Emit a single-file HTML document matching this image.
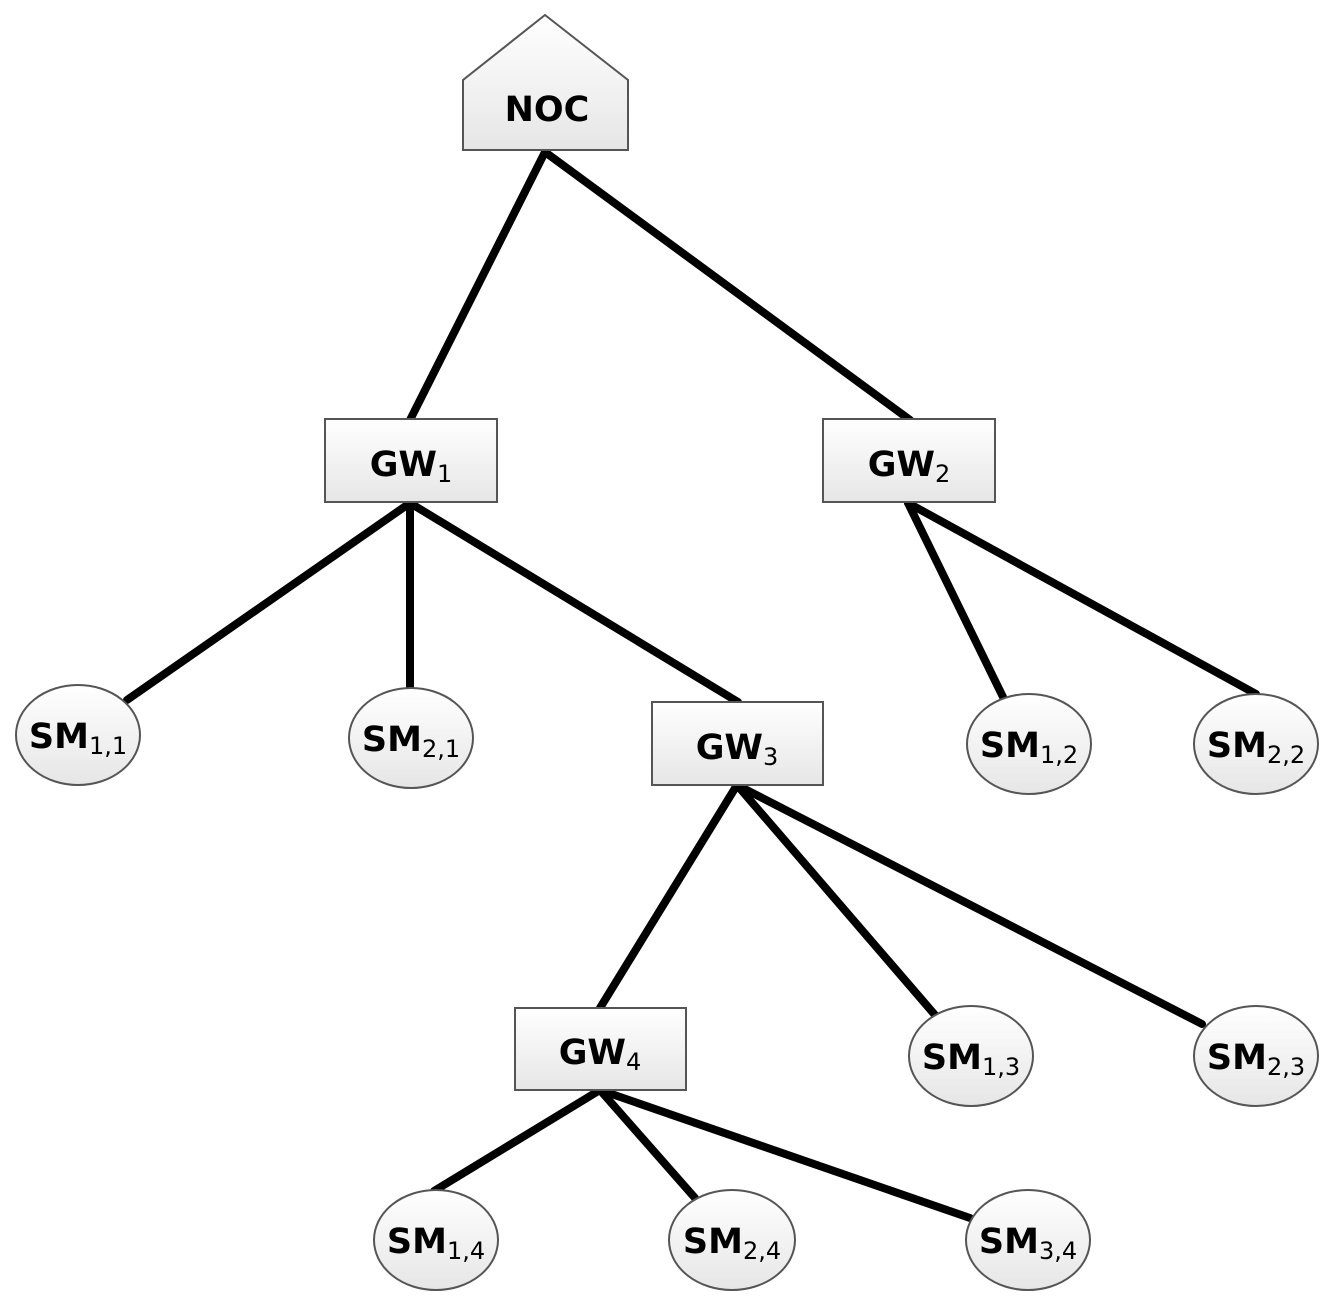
<!DOCTYPE html>
<html><head><meta charset="utf-8"><style>html,body{margin:0;padding:0;background:#fff}</style></head>
<body>
<svg width="1339" height="1309" viewBox="0 0 1339 1309" xmlns="http://www.w3.org/2000/svg">
<defs>
<linearGradient id="g" x1="0" y1="0" x2="0" y2="1"><stop offset="0" stop-color="#ffffff"/><stop offset="1" stop-color="#e6e6e6"/></linearGradient>
</defs>
<g stroke="#000" stroke-width="8" stroke-linecap="round">
<line x1="545" y1="152" x2="410" y2="420"/>
<line x1="545" y1="152" x2="910" y2="420"/>
<line x1="410" y1="503" x2="127" y2="700"/>
<line x1="410" y1="503" x2="410" y2="688"/>
<line x1="410" y1="503" x2="738" y2="702"/>
<line x1="908" y1="503" x2="1003" y2="697"/>
<line x1="908" y1="503" x2="1256" y2="694"/>
<line x1="737" y1="785" x2="600" y2="1008"/>
<line x1="737" y1="785" x2="935" y2="1015"/>
<line x1="737" y1="785" x2="1202" y2="1024"/>
<line x1="600" y1="1090" x2="434" y2="1191"/>
<line x1="600" y1="1090" x2="695" y2="1198"/>
<line x1="600" y1="1090" x2="970" y2="1218"/>
</g>
<g fill="url(#g)" stroke="#555" stroke-width="2">
<polygon points="545,15 628,80 628,150 463,150 463,80"/>
<rect x="325" y="419" width="172" height="83"/>
<rect x="823" y="419" width="172" height="83"/>
<rect x="652" y="702" width="171" height="83"/>
<rect x="515" y="1008" width="171" height="82"/>
<ellipse cx="78" cy="735" rx="62" ry="50"/>
<ellipse cx="411" cy="738" rx="62" ry="50"/>
<ellipse cx="1029" cy="744" rx="62" ry="50"/>
<ellipse cx="1256" cy="744" rx="62" ry="50"/>
<ellipse cx="971" cy="1056" rx="62" ry="50"/>
<ellipse cx="1256" cy="1056" rx="62" ry="50"/>
<ellipse cx="436" cy="1240" rx="62" ry="50"/>
<ellipse cx="732" cy="1240" rx="63" ry="50"/>
<ellipse cx="1028" cy="1240" rx="62" ry="50"/>
</g>
<g font-family="'DejaVu Sans', 'Liberation Sans', sans-serif" font-weight="bold" font-size="35" fill="#000" text-anchor="middle">
<text x="547" y="121">NOC</text>
<text x="411" y="476">GW<tspan font-size="24" font-weight="normal" dy="6">1</tspan></text>
<text x="909" y="476">GW<tspan font-size="24" font-weight="normal" dy="6">2</tspan></text>
<text x="737" y="759">GW<tspan font-size="24" font-weight="normal" dy="6">3</tspan></text>
<text x="600" y="1064">GW<tspan font-size="24" font-weight="normal" dy="6">4</tspan></text>
<text x="78" y="748">SM<tspan font-size="24" font-weight="normal" dy="6">1,1</tspan></text>
<text x="411" y="751">SM<tspan font-size="24" font-weight="normal" dy="6">2,1</tspan></text>
<text x="1029" y="757">SM<tspan font-size="24" font-weight="normal" dy="6">1,2</tspan></text>
<text x="1256" y="757">SM<tspan font-size="24" font-weight="normal" dy="6">2,2</tspan></text>
<text x="971" y="1069">SM<tspan font-size="24" font-weight="normal" dy="6">1,3</tspan></text>
<text x="1256" y="1069">SM<tspan font-size="24" font-weight="normal" dy="6">2,3</tspan></text>
<text x="436" y="1253">SM<tspan font-size="24" font-weight="normal" dy="6">1,4</tspan></text>
<text x="732" y="1253">SM<tspan font-size="24" font-weight="normal" dy="6">2,4</tspan></text>
<text x="1028" y="1253">SM<tspan font-size="24" font-weight="normal" dy="6">3,4</tspan></text>
</g>
</svg>
</body></html>
